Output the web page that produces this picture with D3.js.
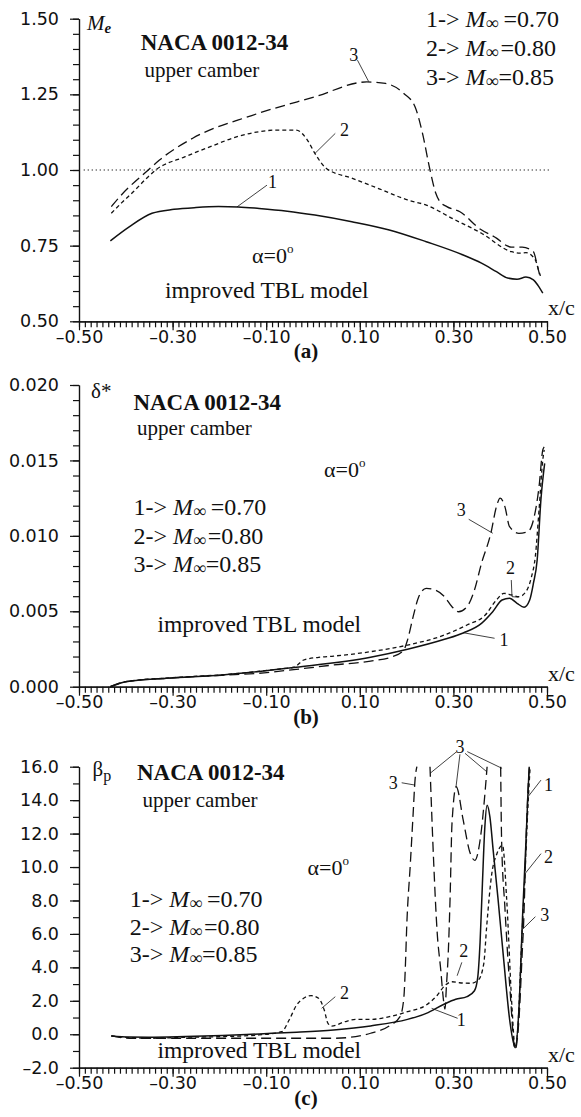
<!DOCTYPE html>
<html>
<head>
<meta charset="utf-8">
<script src="https://cdn.jsdelivr.net/npm/d3@7"></script>
<style>
  html, body { margin: 0; padding: 0; background: #fff; }
  svg { display: block; }
</style>
</head>
<body>
<svg id="chart" width="581" height="1117"></svg>
<script>
// ---- shared chord axis (x/c) ----
const xMajorTicks = [-0.5, -0.3, -0.1, 0.1, 0.3, 0.5];
const xMinorCount = 80; // minor ticks every 0.0125

// ---- (a) edge Mach number Me ----
const meTicks = [0.5, 0.75, 1.0, 1.25, 1.5];
const meM070 = [[-0.433,0.766],[-0.392,0.813],[-0.344,0.857],[-0.297,0.870],[-0.250,0.876],[-0.202,0.879],[-0.160,0.878],[-0.115,0.873],[-0.055,0.864],[0.004,0.851],[0.083,0.829],[0.163,0.802],[0.242,0.763],[0.321,0.719],[0.360,0.692],[0.392,0.664],[0.416,0.643],[0.436,0.639],[0.455,0.646],[0.471,0.637],[0.481,0.618],[0.491,0.593]];
const meM080 = [[-0.431,0.857],[-0.408,0.893],[-0.384,0.928],[-0.352,0.978],[-0.336,1.0],[-0.273,1.044],[-0.218,1.078],[-0.162,1.110],[-0.075,1.132],[-0.036,1.132],[-0.012,1.099],[0.004,1.055],[0.028,1.006],[0.083,0.973],[0.143,0.937],[0.202,0.901],[0.242,0.884],[0.300,0.838],[0.360,0.791],[0.424,0.730],[0.442,0.725],[0.455,0.727],[0.475,0.703],[0.483,0.664],[0.486,0.650]];
const meM085 = [[-0.431,0.879],[-0.408,0.920],[-0.352,1.0],[-0.328,1.033],[-0.257,1.105],[-0.131,1.180],[0.004,1.242],[0.115,1.291],[0.155,1.286],[0.194,1.253],[0.218,1.209],[0.234,1.121],[0.250,1.0],[0.262,0.925],[0.270,0.898],[0.286,0.879],[0.314,0.862],[0.357,0.805],[0.392,0.775],[0.414,0.750],[0.424,0.745],[0.447,0.745],[0.471,0.730],[0.479,0.686],[0.484,0.655]];

// ---- (b) displacement thickness delta* ----
const dsTicks = [0, 0.005, 0.010, 0.015, 0.020];
const dsM070 = [[-0.433,0],[-0.415,0.0002],[-0.400,0.00033],[-0.313,0.00056],[-0.194,0.00078],[-0.036,0.00129],[0.123,0.00195],[0.202,0.00248],[0.281,0.00314],[0.321,0.00356],[0.360,0.0042],[0.384,0.00497],[0.404,0.00575],[0.420,0.00586],[0.436,0.00553],[0.451,0.00527],[0.463,0.00575],[0.471,0.00686],[0.479,0.0084],[0.487,0.0124],[0.495,0.0148]];
const dsM080 = [[-0.433,0],[-0.400,0.00033],[-0.310,0.00058],[-0.190,0.0008],[-0.070,0.00118],[-0.040,0.0013],[-0.020,0.00177],[0.012,0.00195],[0.044,0.00203],[0.123,0.00232],[0.202,0.00276],[0.281,0.00343],[0.329,0.00409],[0.368,0.00475],[0.392,0.00575],[0.408,0.00619],[0.424,0.00608],[0.440,0.00597],[0.455,0.0063],[0.467,0.0073],[0.475,0.00862],[0.483,0.01172],[0.491,0.01503],[0.494,0.0157]];
const dsM085 = [[-0.433,0],[-0.400,0.00033],[-0.310,0.00056],[-0.194,0.00076],[-0.115,0.00089],[-0.036,0.00115],[0.044,0.00144],[0.123,0.0017],[0.170,0.00199],[0.194,0.00243],[0.202,0.0031],[0.214,0.00464],[0.226,0.00597],[0.242,0.00652],[0.261,0.00641],[0.281,0.00597],[0.297,0.0053],[0.311,0.00497],[0.329,0.0053],[0.345,0.00641],[0.360,0.00818],[0.380,0.01017],[0.392,0.01194],[0.400,0.0125],[0.410,0.01194],[0.420,0.01061],[0.440,0.01017],[0.459,0.01028],[0.471,0.01105],[0.483,0.01326],[0.491,0.0157],[0.494,0.0159]];

// ---- (c) pressure-gradient parameter beta_p (null = off scale) ----
const bpTicks = [-2, 0, 2, 4, 6, 8, 10, 12, 14, 16];
const bpM070 = [[-0.431,-0.1],[-0.392,-0.17],[-0.352,-0.18],[-0.273,-0.14],[-0.194,-0.08],[-0.115,0.02],[-0.035,0.12],[0.044,0.26],[0.123,0.5],[0.202,0.89],[0.242,1.25],[0.281,1.81],[0.305,2.09],[0.329,2.25],[0.345,2.6],[0.352,3.4],[0.357,5.5],[0.362,9.0],[0.367,12.3],[0.372,13.7],[0.378,13.0],[0.385,11.0],[0.395,8.2],[0.407,4.6],[0.421,0.7],[0.432,-0.8],[0.440,1.5],[0.448,7.2],[0.455,11.5],[0.459,14.2],[0.462,16]];
const bpM080 = [[-0.431,-0.1],[-0.392,-0.2],[-0.352,-0.24],[-0.273,-0.18],[-0.194,-0.14],[-0.115,-0.04],[-0.067,0.15],[-0.051,0.85],[-0.035,1.75],[-0.020,2.15],[-0.004,2.31],[0.012,2.15],[0.024,1.45],[0.032,0.65],[0.040,0.49],[0.068,0.75],[0.091,0.89],[0.123,0.89],[0.163,1.05],[0.202,1.35],[0.242,1.75],[0.266,2.35],[0.281,2.89],[0.297,3.14],[0.313,3.08],[0.337,3.05],[0.353,3.24],[0.365,4.24],[0.371,6.4],[0.382,9.6],[0.393,10.8],[0.405,11.3],[0.414,8.0],[0.425,1.7],[0.432,-0.8],[0.438,0.5],[0.445,5.0],[0.453,9.6],[0.460,14.0],[0.464,16]];
const bpM085 = [[-0.431,-0.1],[-0.392,-0.24],[-0.273,-0.24],[-0.115,-0.24],[-0.035,-0.24],[0.044,-0.24],[0.091,-0.14],[0.123,0.06],[0.163,0.5],[0.186,1.05],[0.194,2.15],[0.198,4.54],[0.200,6.23],[0.208,10.2],[0.214,13.2],[0.218,15.2],[0.222,16],[0.236,null],[0.250,16],[0.258,10.2],[0.265,6.23],[0.273,3.84],[0.279,2.0],[0.282,1.5],[0.285,2.84],[0.289,4.84],[0.293,8.23],[0.297,12.6],[0.306,14.8],[0.321,12.8],[0.335,10.9],[0.346,10.4],[0.357,11.6],[0.368,14.6],[0.372,16],[0.387,null],[0.401,16],[0.403,11.6],[0.410,7.6],[0.421,2.65],[0.432,-0.9],[0.440,0.85],[0.447,4.84],[0.450,6.6],[0.456,12.2],[0.462,15.8],[0.463,16]];

const machLabels = ["0.70", "0.80", "0.85"];

// ---- drawing ----
const SERIF = "'Liberation Serif', 'Times New Roman', serif";
const SANS = "'DejaVu Sans', sans-serif";
const svg = d3.select("#chart");
const X0 = 79, X1 = 547;
const x = d3.scaleLinear().domain([-0.5, 0.5]).range([X0, X1]);
const xMinor = d3.range(0, xMinorCount + 1).map(i => -0.5 + i / xMinorCount);

// number format with a short dash for negative values
const tickFmt = spec => { const f = d3.format(spec); return v => f(v).replace("\u2212", "\u2013"); };

const seriesStyle = [
  { dash: null, width: 1.5 },
  { dash: "4,3", width: 1.3 },
  { dash: "10,5", width: 1.3 }
];

function text(g, px, py, parts, opts = {}) {
  const t = g.append("text")
    .attr("x", px).attr("y", py)
    .attr("font-family", opts.family || SERIF)
    .attr("font-size", opts.size || 20)
    .attr("fill", "#111");
  if (opts.anchor) t.attr("text-anchor", opts.anchor);
  if (opts.weight) t.attr("font-weight", opts.weight);
  parts.forEach(p => {
    const s = t.append("tspan").text(p.t);
    if (p.italic) s.attr("font-style", "italic");
    if (p.bold) s.attr("font-weight", "bold");
    if (p.size) s.attr("font-size", p.size);
    if (p.dy != null) s.attr("dy", p.dy);
    if (p.dx != null) s.attr("dx", p.dx);
  });
  return t;
}

function drawPanel(cfg) {
  const y = d3.scaleLinear().domain(cfg.domain).range([cfg.bottom, cfg.top]);
  const g = svg.append("g");

  const yMinor = d3.range(0, cfg.minorCount + 1).map(i => cfg.domain[0] + i * (cfg.domain[1] - cfg.domain[0]) / cfg.minorCount);
  const axisStyle = sel => {
    sel.selectAll("path,line").attr("stroke", "#111").attr("stroke-width", 1.2);
    sel.selectAll("text").attr("font-family", SANS).attr("font-size", 17.5).attr("fill", "#111");
  };
  g.append("g").attr("transform", `translate(0,${cfg.bottom})`)
    .call(d3.axisBottom(x).tickValues(xMinor).tickSize(6).tickSizeOuter(0).tickFormat(""))
    .call(axisStyle);
  g.append("g").attr("transform", `translate(0,${cfg.bottom})`)
    .call(d3.axisBottom(x).tickValues(xMajorTicks).tickSize(9).tickSizeOuter(0).tickPadding(0).tickFormat(tickFmt(".2f")))
    .call(axisStyle);
  g.append("g").attr("transform", `translate(${X0},0)`)
    .call(d3.axisLeft(y).tickValues(yMinor).tickSize(6).tickSizeOuter(0).tickFormat(""))
    .call(axisStyle);
  g.append("g").attr("transform", `translate(${X0},0)`)
    .call(d3.axisLeft(y).tickValues(cfg.ticks).tickSize(9).tickSizeOuter(0).tickPadding(11).tickFormat(tickFmt(cfg.fmt)))
    .call(axisStyle);

  // sonic reference line
  (cfg.refLines || []).forEach(v => {
    g.append("line")
      .attr("x1", x(-0.49)).attr("x2", x(0.507))
      .attr("y1", y(v)).attr("y2", y(v))
      .attr("stroke", "#111").attr("stroke-width", 1.1)
      .attr("stroke-dasharray", "1.2,2.8");
  });

  // curves
  const line = d3.line()
    .defined(d => d[1] !== null)
    .x(d => x(d[0])).y(d => y(d[1]))
    .curve(d3.curveMonotoneX);
  cfg.series.forEach((s, i) => {
    g.append("path")
      .attr("d", line(s))
      .attr("fill", "none")
      .attr("stroke", "#111")
      .attr("stroke-width", seriesStyle[i].width)
      .attr("stroke-dasharray", seriesStyle[i].dash)
      .attr("stroke-linejoin", "round");
  });

  // curve number labels with leader lines
  cfg.notes.forEach(n => {
    n.leaders.forEach(pts => {
      g.append("path")
        .attr("d", d3.line().x(d => x(d[0])).y(d => y(d[1]))(pts))
        .attr("fill", "none").attr("stroke", "#111").attr("stroke-width", 0.8);
    });
    g.append("text")
      .attr("x", x(n.at[0])).attr("y", y(n.at[1]))
      .attr("text-anchor", "middle").attr("dominant-baseline", "central")
      .attr("font-family", SERIF).attr("font-size", 18).attr("fill", "#111")
      .text(n.label);
  });

  // axis caption and panel letter
  text(g, X1 + 1, cfg.bottom - 6, [{ t: "x/c" }], { size: 22 });
  text(g, 306, cfg.bottom + 37, [{ t: `(${cfg.key})` }], { size: 21, weight: "bold", anchor: "middle" });

  // descriptive texts
  const L = cfg.layout;
  text(g, L.naca[0], L.naca[1], [{ t: "NACA 0012-34" }], { size: 23, weight: "bold" });
  text(g, L.camber[0], L.camber[1], [{ t: "upper camber" }], { size: 21 });
  text(g, L.alpha[0], L.alpha[1], [{ t: "\u03b1=0" }, { t: "o", size: 13, dy: -10 }], { size: 22 });
  text(g, L.model[0], L.model[1], [{ t: "improved TBL model" }], { size: 23.5 });
  const gaps = [5, 2, 0];
  machLabels.forEach((m, i) => {
    text(g, L.legend[0], L.legend[1] + i * L.legend[2], [
      { t: `${i + 1}-> ` },
      { t: "M", italic: true },
      { t: "\u221e", italic: true, bold: true, size: 18, dy: 2 },
      { t: `=${m}`, dy: -2, dx: gaps[i] }
    ], { size: 24 });
  });
  cfg.symbol(g);
  return g;
}

drawPanel({
  key: "a", domain: [0.5, 1.5], top: 18.7, bottom: 321.3,
  ticks: meTicks, minorCount: 20, fmt: ".2f",
  series: [meM070, meM080, meM085], refLines: [1.0],
  notes: [
    { label: "1", at: [-0.0865, 0.961], leaders: [[[-0.1624, 0.878], [-0.0983, 0.950]]] },
    { label: "2", at: [0.0675, 1.132], leaders: [[[0.0043, 1.055], [0.0476, 1.121]]] },
    { label: "3", at: [0.087, 1.38], leaders: [[[0.095, 1.363], [0.119, 1.292]]] }
  ],
  layout: { naca: [140.7, 50], camber: [144.5, 77.3], alpha: [252, 262.5], model: [165, 298], legend: [426, 27, 29] },
  symbol: g => text(g, 87, 30, [{ t: "M", italic: true }, { t: "e", italic: true, bold: true, size: 15, dy: 3 }], { size: 21 })
});

drawPanel({
  key: "b", domain: [0, 0.02], top: 385, bottom: 686.7,
  ticks: dsTicks, minorCount: 20, fmt: ".3f",
  series: [dsM070, dsM080, dsM085],
  notes: [
    { label: "3", at: [0.3169, 0.01171], leaders: [[[0.3327, 0.0111], [0.3842, 0.01017]]] },
    { label: "2", at: [0.4222, 0.00785], leaders: [[[0.4237, 0.00707], [0.4252, 0.00597], [0.4395, 0.00593]]] },
    { label: "1", at: [0.4079, 0.0031], leaders: [[[0.3207, 0.00358], [0.388, 0.00321]]] }
  ],
  layout: { naca: [133.4, 410], camber: [137, 435], alpha: [324, 476.7], model: [157.5, 631.7], legend: [133.4, 515, 28.5] },
  symbol: g => text(g, 91, 398, [{ t: "\u03b4*" }], { size: 21 })
});

drawPanel({
  key: "c", domain: [-2, 16], top: 766.7, bottom: 1067.7,
  ticks: bpTicks, minorCount: 18, fmt: ".1f",
  series: [bpM070, bpM080, bpM085],
  notes: [
    { label: "2", at: [0.0675, 2.449], leaders: [[[0.0184, 1.552], [0.0476, 2.246]]] },
    { label: "1", at: [0.3169, 0.853], leaders: [[[0.2534, 1.552], [0.309, 0.954]]] },
    { label: "2", at: [0.322, 5.0], leaders: [[[0.308, 3.5], [0.318, 4.3]]] },
    { label: "3", at: [0.314, 17.2], leaders: [
        [[0.307, 16.9], [0.25, 15.6]],
        [[0.314, 16.74], [0.3056, 14.8]],
        [[0.3248, 16.8], [0.3712, 15.7]],
        [[0.3297, 16.9], [0.404, 15.9]]
      ] },
    { label: "3", at: [0.1716, 15.0], leaders: [[[0.1895, 15.04], [0.218, 14.9]]] },
    { label: "1", at: [0.503, 14.9], leaders: [[[0.4594, 14.2], [0.4872, 15.2]]] },
    { label: "2", at: [0.503, 10.62], leaders: [[[0.4538, 9.63], [0.4872, 10.8]]] },
    { label: "3", at: [0.495, 7.13], leaders: [[[0.446, 6.23], [0.4752, 7.03]]] }
  ],
  layout: { naca: [137, 780], camber: [142.6, 806.7], alpha: [307.5, 875], model: [157.5, 1058], legend: [129.7, 907, 27.5] },
  symbol: g => text(g, 92.6, 776, [{ t: "\u03b2" }, { t: "p", size: 16, dy: 5 }], { size: 21 })
});
</script>
</body>
</html>
